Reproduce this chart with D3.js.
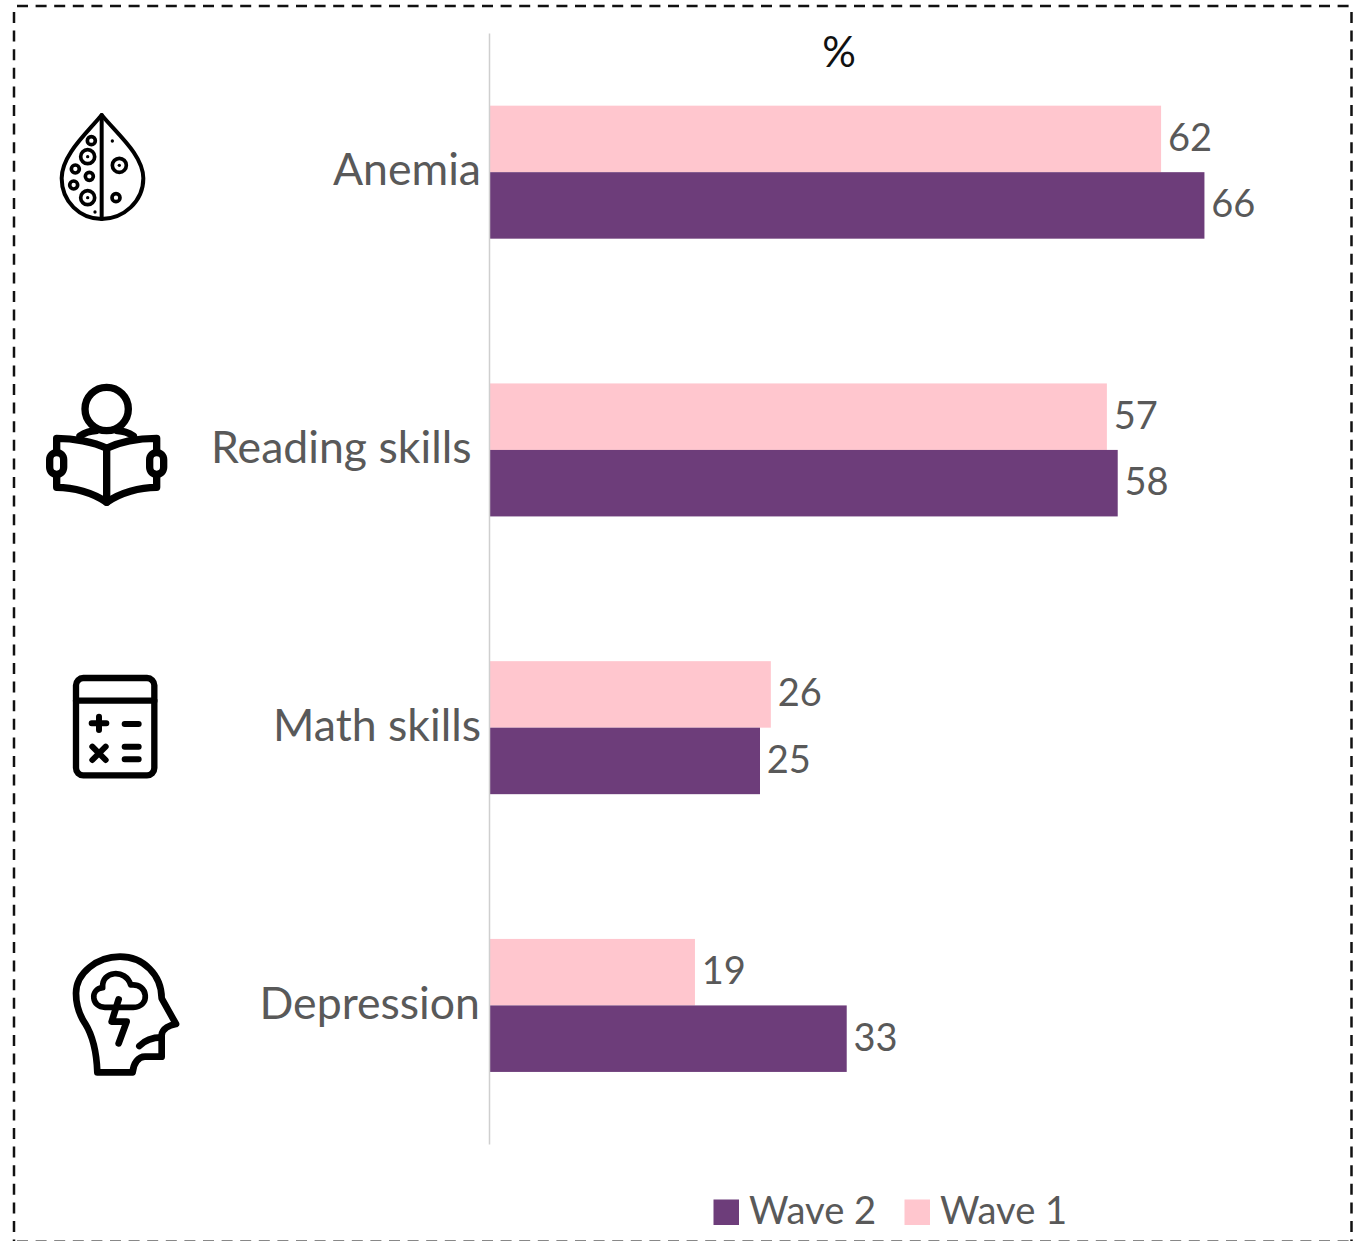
<!DOCTYPE html>
<html>
<head>
<meta charset="utf-8">
<script src="https://cdn.jsdelivr.net/npm/d3@7"></script>
<style>
  html, body { margin: 0; padding: 0; background: #fff; }
  svg { display: block; }
  text { font-family: Lato, "Open Sans", sans-serif; fill: #595959; }
</style>
</head>
<body>
<svg id="chart" width="1353" height="1241"></svg>
<script>
const categories = ["Anemia", "Reading skills", "Math skills", "Depression"];
const wave1 = [62, 57, 26, 19];
const wave2 = [66, 58, 25, 33];
const seriesNames = ["Wave 2", "Wave 1"];
const seriesColors = { "Wave 1": "#FFC6CE", "Wave 2": "#6D3D7A" };

const svg = d3.select("#chart");
const axisX = 489;

const y = d3.scaleBand().domain(categories).range([33, 1144]).paddingInner(0).paddingOuter(0);
const x = d3.scaleLinear().domain([0, 100]).range([axisX, axisX + 1084]);
const barH = 66.5;

// dashed frame round the whole figure
const frame = svg.append("g").attr("fill", "none").attr("stroke-dasharray", "11 7.6");
frame.append("line").attr("x1", 17).attr("y1", 6).attr("x2", 1353).attr("y2", 6)
  .attr("stroke", "#111").attr("stroke-width", 2.5);
frame.append("line").attr("x1", 14).attr("y1", 12).attr("x2", 14).attr("y2", 1241)
  .attr("stroke", "#111").attr("stroke-width", 2.5);
frame.append("line").attr("x1", 1351.5).attr("y1", 12).attr("x2", 1351.5).attr("y2", 1241)
  .attr("stroke", "#111").attr("stroke-width", 2.5);
frame.append("line").attr("x1", 17).attr("y1", 1240.5).attr("x2", 1353).attr("y2", 1240.5)
  .attr("stroke", "#888").attr("stroke-width", 1);

// bars, Wave 1 above Wave 2 in each band
const rows = categories.map((c, i) => ({ c, w1: wave1[i], w2: wave2[i] }));
const mid = c => y(c) + y.bandwidth() / 2 + 0.3;

const groups = svg.append("g").selectAll("g").data(rows).join("g");
groups.append("rect")
  .attr("x", axisX).attr("y", d => mid(d.c) - barH)
  .attr("width", d => x(d.w1) - axisX).attr("height", barH)
  .attr("fill", seriesColors["Wave 1"]);
groups.append("rect")
  .attr("x", axisX).attr("y", d => mid(d.c))
  .attr("width", d => x(d.w2) - axisX).attr("height", barH)
  .attr("fill", seriesColors["Wave 2"]);

// value labels
groups.append("text")
  .attr("x", d => x(d.w1) + 6.8).attr("y", d => mid(d.c) - barH / 2 + 12)
  .attr("font-size", 38).text(d => d.w1);
groups.append("text")
  .attr("x", d => x(d.w2) + 6.8).attr("y", d => mid(d.c) + barH / 2 + 12)
  .attr("font-size", 38).text(d => d.w2);

// category axis
const axis = svg.append("g").attr("transform", `translate(${axisX},0)`)
  .call(d3.axisLeft(y).tickSize(0).tickPadding(8));
axis.select(".domain").attr("stroke", "#cfcfcf").attr("stroke-width", 1.5);
axis.selectAll("text")
  .attr("font-size", 44.6)
  .attr("dy", "0.3em")
  .style("font-family", "Lato, sans-serif")
  .style("fill", "#595959")
  .attr("dx", d => d === "Reading skills" ? -9.5 : (d === "Depression" ? -1 : 0));

// unit caption
svg.append("text").attr("x", 839).attr("y", 67).attr("text-anchor", "middle")
  .attr("font-size", 42).style("fill", "#111").text("%");

// legend
const legendSwatch = { "Wave 2": 713.5, "Wave 1": 904.5 };
const legend = svg.append("g").selectAll("g").data(seriesNames).join("g")
  .attr("transform", d => `translate(${legendSwatch[d]},0)`);
legend.append("rect").attr("y", 1199.5).attr("width", 25.5).attr("height", 25.5)
  .attr("fill", d => seriesColors[d]);
legend.append("text").attr("x", 35.5).attr("y", 1223.5).attr("font-size", 38.2).text(d => d);

// outline pictograms beside each category
function icon(ox, oy) {
  return svg.append("g")
    .attr("transform", `translate(${ox},${oy}) scale(${1 / 3})`)
    .attr("fill", "none").attr("stroke", "#000")
    .attr("stroke-linecap", "round").attr("stroke-linejoin", "round");
}

// blood drop with cells
const drop = icon(30, 90).attr("stroke-width", 12);
drop.append("path").attr("d", "M215 75 C170 130 95 195 95 265 C95 335 150 387 215 387 C280 387 340 335 340 265 C340 195 260 130 215 75 Z");
drop.append("path").attr("d", "M215 75 L215 387");
const cells = [[184,152,12],[173,200,21],[136,237,12],[178,259,12],[131,285,12],[173,323,21],[268,226,21],[258,323,12]];
drop.selectAll("circle.cell").data(cells).join("circle").attr("class", "cell")
  .attr("cx", d => d[0]).attr("cy", d => d[1]).attr("r", d => d[2]).attr("stroke-width", 11);
const specks = [[195,366],[247,153],[173,200],[173,323],[268,226]];
drop.selectAll("circle.speck").data(specks).join("circle").attr("class", "speck")
  .attr("cx", d => d[0]).attr("cy", d => d[1]).attr("r", 5).attr("fill", "#000").attr("stroke", "none");

// reader with open book
const reader = icon(30, 370).attr("stroke-width", 22);
reader.append("circle").attr("cx", 230).attr("cy", 117).attr("r", 65);
reader.append("path").attr("d", "M150 198 Q172 183 198 182 M310 198 Q288 183 262 182");
reader.append("path").attr("d", "M80 205 L80 352 C130 352 190 368 230 397 C270 368 330 352 380 352 L380 205 C320 205 270 215 230 235 C190 215 130 205 80 205 Z");
reader.append("path").attr("d", "M230 235 L230 397");
reader.selectAll("rect").data([58, 358]).join("rect")
  .attr("x", d => d + 1).attr("y", 248).attr("width", 42).attr("height", 65).attr("rx", 21)
  .attr("fill", "#fff");

// calculator
const calc = icon(50, 660).attr("stroke-width", 19);
calc.append("rect").attr("x", 78).attr("y", 54).attr("width", 235).attr("height", 292).attr("rx", 22);
calc.append("path").attr("d", "M78 122 L313 122");
calc.append("path").attr("stroke-width", 18).attr("d",
  "M125 190 L169 190 M147 170 L147 210 M224 192 L266 192 M127 260 L167 300 M167 260 L127 300 M224 260 L266 260 M224 298 L266 298");

// head with storm cloud
const head = icon(50, 940).attr("stroke-width", 20);
head.append("path").attr("d", "M142 397 C140 340 130 290 105 250 C85 220 78 190 78 160 C78 100 140 50 210 50 C280 50 335 105 335 175 L378 252 C360 255 338 265 335 285 L335 350 L285 350 C265 350 250 370 248 397 Z");
head.append("path").attr("d", "M268 318 C285 300 310 292 335 292");
head.append("path").attr("stroke-width", 17).attr("d", "M165 202 C125 202 118 148 158 143 C153 92 228 85 242 135 C296 128 302 202 250 202 Z");
head.append("path").attr("d", "M206 178 L185 245 L230 245 L206 310");
</script>
</body>
</html>
